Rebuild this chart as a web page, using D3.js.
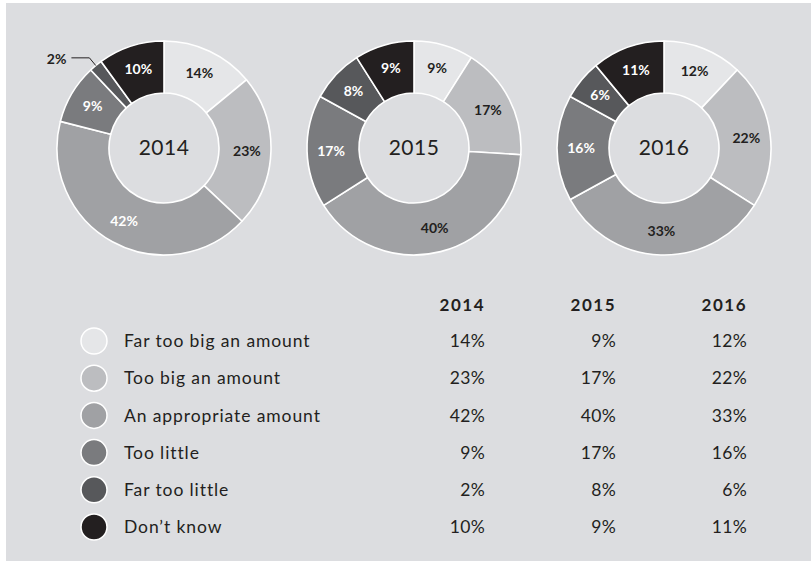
<!DOCTYPE html>
<html>
<head>
<meta charset="utf-8">
<script src="https://cdn.jsdelivr.net/npm/d3@7"></script>
<style>
  html, body { margin: 0; padding: 0; background: #ffffff; }
  svg { display: block; }
  text { font-family: Lato, "Open Sans", sans-serif; }
</style>
</head>
<body>
<svg id="chart" width="811" height="561"></svg>
<script>
// ---- data ----
const categories = ["Far too big an amount", "Too big an amount", "An appropriate amount", "Too little", "Far too little", "Don\u2019t know"];
const years = ["2014", "2015", "2016"];
const values2014 = [14, 23, 42, 9, 2, 10];
const values2015 = [9, 17, 40, 17, 8, 9];
const values2016 = [12, 22, 33, 16, 6, 11];
const colors = ["#e5e6e8", "#bcbdc0", "#a0a1a4", "#7a7b7e", "#57585b", "#231f20"];
// label text colour inside slices (w = white, d = dark)
const labelTone2014 = ["d", "d", "w", "w", "d", "w"];
const labelTone2015 = ["d", "d", "d", "w", "w", "w"];
const labelTone2016 = ["d", "d", "d", "w", "w", "w"];

const series = [
  { year: years[0], values: values2014, tones: labelTone2014 },
  { year: years[1], values: values2015, tones: labelTone2015 },
  { year: years[2], values: values2016, tones: labelTone2016 }
];

const W = 811, H = 561;
const svg = d3.select("#chart");
const BG = "#dcdde0";
const DARK = "#231f20";

// panel
svg.append("rect").attr("x", 6).attr("y", 3).attr("width", W - 6).attr("height", H - 3).attr("fill", BG);

// ---- donuts ----
const xDonut = d3.scalePoint().domain(years).range([164, 664]);
const cy = 148;
const R = 107, r = 55;
const pie = d3.pie().sort(null).value(d => d);
const arc = d3.arc().innerRadius(r).outerRadius(R);
const labelArc = d3.arc().innerRadius((R + r) / 2 + 2).outerRadius((R + r) / 2 + 2);

series.forEach(s => {
  const g = svg.append("g").attr("transform", `translate(${xDonut(s.year)},${cy})`);
  const arcs = pie(s.values);
  g.selectAll("path.slice").data(arcs).join("path")
    .attr("class", "slice")
    .attr("d", arc)
    .attr("fill", (d, i) => colors[i])
    .attr("stroke", "#ffffff")
    .attr("stroke-width", 1.6)
    .attr("stroke-linejoin", "round");

  g.append("text")
    .attr("text-anchor", "middle")
    .attr("dy", "0.35em")
    .attr("font-size", 21)
    .attr("letter-spacing", 0.5)
    .attr("fill", DARK)
    .text(s.year);

  arcs.forEach((d, i) => {
    if (d.data >= 3) {
      const [lx, ly] = labelArc.centroid(d);
      g.append("text")
        .attr("x", lx).attr("y", ly)
        .attr("text-anchor", "middle")
        .attr("dy", "0.35em")
        .attr("font-size", 14)
        .attr("font-weight", "bold")
        .attr("fill", s.tones[i] === "w" ? "#ffffff" : DARK)
        .text(d.data + "%");
    } else {
      const mid = (d.startAngle + d.endAngle) / 2;
      const p0 = [R * Math.sin(mid), -R * Math.cos(mid)];
      const p1 = [(R + 10) * Math.sin(mid), -(R + 10) * Math.cos(mid)];
      const p2 = [p1[0] - 18, p1[1]];
      g.append("path")
        .attr("d", d3.line()([p0, p1, p2]))
        .attr("fill", "none")
        .attr("stroke", DARK)
        .attr("stroke-width", 1);
      g.append("text")
        .attr("x", p2[0] - 5).attr("y", p2[1] + 1)
        .attr("text-anchor", "end")
        .attr("dy", "0.35em")
        .attr("font-size", 14)
        .attr("font-weight", "bold")
        .attr("fill", DARK)
        .text(d.data + "%");
    }
  });
});

// ---- legend + table ----
const yRow = d3.scalePoint().domain(categories).range([341, 527]);
const xCol = d3.scalePoint().domain(years).range([485, 747]);

const rows = svg.append("g");
categories.forEach((c, i) => {
  rows.append("circle")
    .attr("cx", 94).attr("cy", yRow(c)).attr("r", 13)
    .attr("fill", colors[i])
    .attr("stroke", "#ffffff").attr("stroke-width", 1.5);
  rows.append("text")
    .attr("x", 124).attr("y", yRow(c))
    .attr("dy", "0.35em")
    .attr("font-size", 17.5)
    .attr("letter-spacing", 0.9)
    .attr("fill", DARK)
    .text(c);
  series.forEach(s => {
    rows.append("text")
      .attr("x", xCol(s.year)).attr("y", yRow(c))
      .attr("dy", "0.35em")
      .attr("text-anchor", "end")
      .attr("font-size", 17.5)
      .attr("letter-spacing", 0.3)
      .attr("fill", DARK)
      .text(s.values[i] + "%");
  });
});

years.forEach(y => {
  svg.append("text")
    .attr("x", xCol(y)).attr("y", 305)
    .attr("dy", "0.35em")
    .attr("text-anchor", "end")
    .attr("font-size", 17)
    .attr("font-weight", "bold")
    .attr("letter-spacing", 1.5)
    .attr("fill", DARK)
    .text(y);
});
</script>
</body>
</html>
